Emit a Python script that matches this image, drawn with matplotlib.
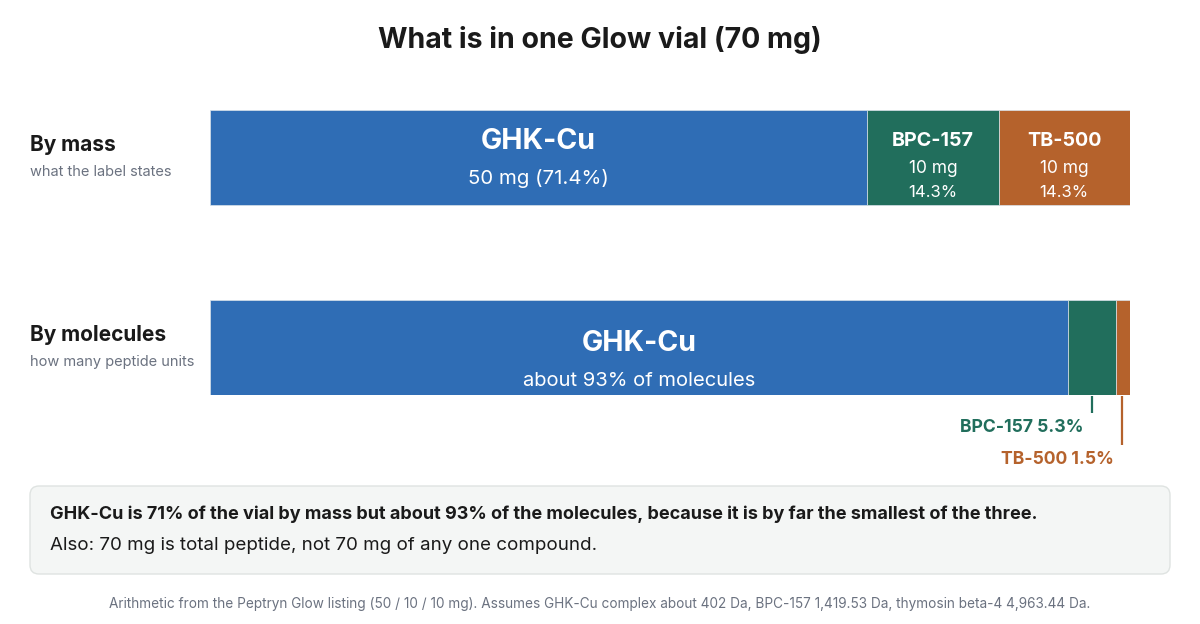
import matplotlib
matplotlib.use("Agg")
import matplotlib.pyplot as plt
from matplotlib.patches import FancyBboxPatch
from matplotlib import transforms

plt.rcParams['font.family'] = ['Inter', 'DejaVu Sans']

# datos
compuestos = ['GHK-Cu', 'BPC-157', 'TB-500']
masa_mg = [50, 10, 10]
peso_da = [402, 1419.53, 4963.44]
colores = ['#2f6db5', '#216e5c', '#b5622c']
filas = ['By mass', 'By molecules']
subtitulos = ['what the label states', 'how many peptide units']

total_mg = sum(masa_mg)
frac_masa = [m / total_mg for m in masa_mg]
moles = [m / d for m, d in zip(masa_mg, peso_da)]
frac_mol = [n / sum(moles) for n in moles]

W, H = 1200, 624
fig = plt.figure(figsize=(W / 100, H / 100), dpi=100)

# capa de fondo en píxeles para textos y caja
over = fig.add_axes([0, 0, 1, 1])
over.set_xlim(0, W)
over.set_ylim(H, 0)
over.axis('off')

# ejes de las barras: x 210..1130, y 110..395
ax = fig.add_axes([210 / W, 1 - 395 / H, 920 / W, 285 / H])
ax.set_xlim(0, 1)
ax.set_ylim(1.25, -0.25)
ax.axis('off')

for fila, fracs in enumerate([frac_masa, frac_mol]):
    izq = 0
    for f, c in zip(fracs, colores):
        ax.barh(fila, f, left=izq, height=0.5, color=c, edgecolor='#d9e2ea',
                linewidth=0.5)
        izq += f

TXT = '#1a1a1a'
GRIS = '#6b7280'

over.text(600, 40, 'What is in one Glow vial (70 mg)', ha='center', va='center',
          fontsize=20.5, fontweight='bold', color=TXT)

for i, (t, s) in enumerate(zip(filas, subtitulos)):
    y0 = 145 + 190 * i
    over.text(30, y0, t, ha='left', va='center', fontsize=15, fontweight='bold', color=TXT)
    over.text(30, y0 + 27, s, ha='left', va='center', fontsize=10.5, color=GRIS)

# etiquetas dentro de la barra de masa
izq = 0
for k, (nom, m, f) in enumerate(zip(compuestos, masa_mg, frac_masa)):
    cx = izq + f / 2
    if k == 0:
        ax.text(cx, -0.085, nom, ha='center', va='center', color='white',
                fontsize=20.5, fontweight='bold')
        ax.text(cx, 0.113, f'{m} mg ({f * 100:.1f}%)', ha='center', va='center',
                color='white', fontsize=14.7)
    else:
        ax.text(cx, -0.085, nom, ha='center', va='center', color='white',
                fontsize=14.2, fontweight='bold')
        ax.text(cx, 0.058, f'{m} mg', ha='center', va='center', color='white', fontsize=12.5)
        ax.text(cx, 0.186, f'{f * 100:.1f}%', ha='center', va='center', color='white', fontsize=12)
    izq += f

# barra de moléculas
ax.text(frac_mol[0] / 2, 0.978, compuestos[0], ha='center', va='center', color='white',
        fontsize=20.5, fontweight='bold')
ax.text(frac_mol[0] / 2, 1.177, f'about {frac_mol[0] * 100:.0f}% of molecules',
        ha='center', va='center', color='white', fontsize=14.5)

mix = transforms.blended_transform_factory(ax.transData, over.transData)
izq = frac_mol[0]
fondos = [413, 445]
for k in (1, 2):
    cx = izq + frac_mol[k] / 2
    if k == 2:
        cx = izq + frac_mol[k] * 0.45
    over.plot([cx, cx], [396, fondos[k - 1]], color=colores[k], lw=1.6,
              transform=mix, clip_on=False, solid_capstyle='butt')
    over.annotate(f'{compuestos[k]} {frac_mol[k] * 100:.1f}%',
                  xy=(cx, fondos[k - 1] + 14), xycoords=mix,
                  xytext=(-6, 0), textcoords='offset points',
                  ha='right', va='center', color=colores[k],
                  fontsize=12.7, fontweight='bold')
    izq += frac_mol[k]

# caja de conclusión
caja = FancyBboxPatch((30, 486), 1140, 88, boxstyle='round,pad=0,rounding_size=9',
                      facecolor='#f4f6f5', edgecolor='#dfe3e1', linewidth=1)
over.add_patch(caja)
over.text(50, 514, 'GHK-Cu is 71% of the vial by mass but about 93% of the molecules, '
          'because it is by far the smallest of the three.', ha='left', va='center',
          fontsize=13, fontweight='bold', color=TXT)
over.text(50, 546, 'Also: 70 mg is total peptide, not 70 mg of any one compound.',
          ha='left', va='center', fontsize=13.5, color=TXT)

over.text(600, 604, 'Arithmetic from the Peptryn Glow listing (50 / 10 / 10 mg). Assumes GHK-Cu '
          'complex about 402 Da, BPC-157 1,419.53 Da, thymosin beta-4 4,963.44 Da.',
          ha='center', va='center', fontsize=9.8, color=GRIS)

fig.savefig('out.png', dpi=100)
